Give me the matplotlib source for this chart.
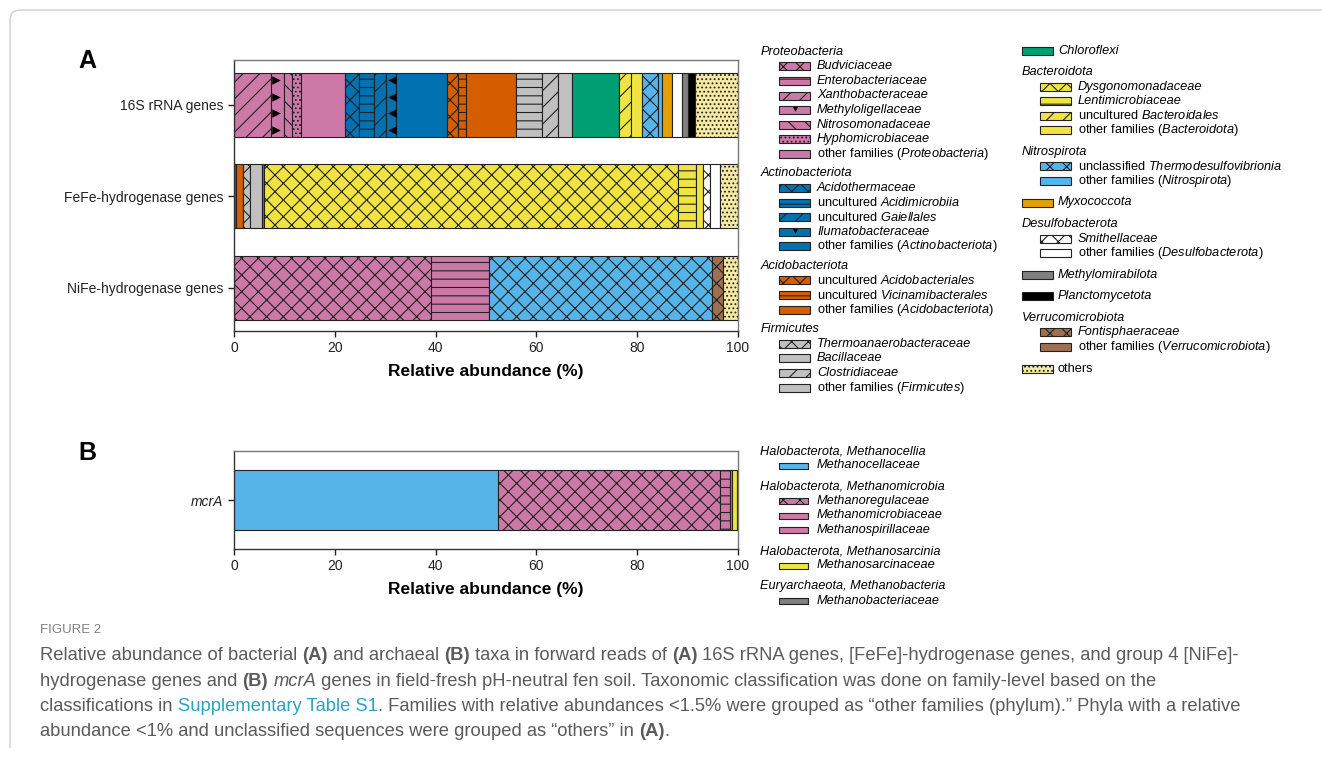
import numpy as np
import matplotlib
matplotlib.use('Agg')
import matplotlib.pyplot as plt
from matplotlib.patches import Rectangle, PathPatch
from matplotlib.path import Path

plt.rcParams['font.family'] = ['Liberation Sans', 'DejaVu Sans']
plt.rcParams['mathtext.fontset'] = 'custom'
plt.rcParams['mathtext.rm'] = 'Liberation Sans'
plt.rcParams['mathtext.it'] = 'Liberation Sans:italic'
plt.rcParams['mathtext.bf'] = 'Liberation Sans:bold'
plt.rcParams['hatch.linewidth'] = 0.8

# ---------------- datos ----------------
samples = ['16S rRNA genes', 'FeFe-hydrogenase genes', 'NiFe-hydrogenase genes']

taxa = ['Budviciaceae', 'Enterobacteriaceae', 'Xanthobacteraceae', 'Methyloligellaceae',
        'Nitrosomonadaceae', 'Hyphomicrobiaceae', 'other families (Proteobacteria)',
        'Acidothermaceae', 'uncultured Acidimicrobiia', 'uncultured Gaiellales',
        'Ilumatobacteraceae', 'other families (Actinobacteriota)',
        'uncultured Acidobacteriales', 'uncultured Vicinamibacterales',
        'other families (Acidobacteriota)',
        'Thermoanaerobacteraceae', 'Bacillaceae', 'Clostridiaceae', 'other families (Firmicutes)',
        'Chloroflexi',
        'Dysgonomonadaceae', 'Lentimicrobiaceae', 'uncultured Bacteroidales',
        'other families (Bacteroidota)',
        'unclassified Thermodesulfovibrionia', 'other families (Nitrospirota)',
        'Myxococcota',
        'Smithellaceae', 'other families (Desulfobacterota)',
        'Methylomirabilota', 'Planctomycetota',
        'Fontisphaeraceae', 'other families (Verrucomicrobiota)',
        'others']

rrna_16s = [0, 0, 7.3, 2.6, 1.7, 1.6, 8.9,
            2.8, 2.8, 2.4, 2.0, 10.2,
            2.2, 1.6, 9.9,
            0, 5.2, 3.0, 2.8,
            9.3,
            0, 0, 2.5, 2.2,
            3.2, 0.7,
            2.1,
            0, 1.8,
            1.3, 1.4,
            0, 0,
            8.5]

fefe_hyd = [0, 0, 0, 0, 0, 0, 0,
            0, 0, 0, 0, 0.4,
            0, 0, 1.4,
            1.3, 0, 0, 2.5,
            0.3,
            82.2, 3.6, 0, 1.45,
            0, 0,
            0,
            1.2, 2.0,
            0, 0,
            0, 0,
            3.65]

nife_hyd = [39.1, 11.55, 0, 0, 0, 0, 0,
            0, 0, 0, 0, 0,
            0, 0, 0,
            0, 0, 0, 0,
            0,
            0, 0, 0, 0,
            44.25, 0,
            0,
            0, 0,
            0, 0,
            2.2, 0,
            2.9]

archaea = ['Methanocellaceae', 'Methanoregulaceae', 'Methanomicrobiaceae',
           'Methanospirillaceae', 'Methanosarcinaceae', 'Methanobacteriaceae']
mcra = [52.4, 44.1, 2.0, 0.35, 0.9, 0.25]

# grupos de la leyenda (cabecera, taxones)
leg_col1 = [('Proteobacteria', taxa[0:7]), ('Actinobacteriota', taxa[7:12]),
            ('Acidobacteriota', taxa[12:15]), ('Firmicutes', taxa[15:19])]
leg_col2 = [(None, taxa[19:20]), ('Bacteroidota', taxa[20:24]), ('Nitrospirota', taxa[24:26]),
            (None, taxa[26:27]), ('Desulfobacterota', taxa[27:29]), (None, taxa[29:30]),
            (None, taxa[30:31]), ('Verrucomicrobiota', taxa[31:33]), (None, taxa[33:34])]
leg_b = [('Halobacterota, Methanocellia', archaea[0:1]),
         ('Halobacterota, Methanomicrobia', archaea[1:4]),
         ('Halobacterota, Methanosarcinia', archaea[4:5]),
         ('Euryarchaeota, Methanobacteria', archaea[5:6])]

# ---------------- estilos ----------------
PINK, BLUE, VERM, GREY = '#CC79A7', '#0072B2', '#D55E00', '#C0C0C0'
GREEN, YELLOW, SKY, GOLD = '#009E73', '#F0E442', '#56B4E9', '#E69F00'
BROWN, OTHERS = '#9E7052', '#F5E9A3'

colores = ([PINK] * 7 + [BLUE] * 5 + [VERM] * 3 + [GREY] * 4 + [GREEN] + [YELLOW] * 4
           + [SKY] * 2 + [GOLD] + ['white'] * 2 + ['#808080', 'black'] + [BROWN] * 2 + [OTHERS])
tramas = ['xx', '--', '//', '', '\\\\', '....', '',
          'xx', '--', '//', '', '',
          'xx', '--', '',
          'xx', '--', '//', '',
          '',
          'xx', '--', '//', '',
          'xx', '',
          '',
          'xx', '',
          '', '',
          'xx', '',
          '....']
marcas = {'Methyloligellaceae': '>', 'Ilumatobacteraceae': '<'}

col_b = [SKY, PINK, PINK, PINK, YELLOW, '#808080']
tra_b = ['', 'xx', '--', '', '', '']

EDGE = '#222222'

fig = plt.figure(figsize=(13.22, 7.62), dpi=100)


def estilo_ejes(ax):
    ax.set_xlim(0, 100)
    ax.set_xticks(np.arange(0, 101, 20))
    ax.tick_params(direction='out', length=4, width=1, labelsize=10, colors='#222222')
    for lado in ['left', 'bottom']:
        ax.spines[lado].set_color('#333333')
        ax.spines[lado].set_linewidth(1.0)
    for lado in ['top', 'right']:
        ax.spines[lado].set_color('#777777')
        ax.spines[lado].set_linewidth(1.0)
    ax.set_xlabel('Relative abundance (%)', fontsize=12.5, fontweight='bold', labelpad=6)


# ---------------- panel A ----------------
axA = fig.add_axes([234 / 1322, (762 - 331) / 762, 504 / 1322, 271 / 762])
datos = np.array([rrna_16s, fefe_hyd, nife_hyd])
izq = np.cumsum(datos, axis=1) - datos
ypos = np.arange(len(samples))

for j, nombre in enumerate(taxa):
    m = datos[:, j] > 0
    if not m.any():
        continue
    axA.barh(ypos[m], datos[m, j], left=izq[m, j], height=0.7, color=colores[j],
             hatch=tramas[j], edgecolor=EDGE, linewidth=0.8)
    if nombre in marcas:
        for i in ypos[m]:
            if marcas[nombre] == '>':
                xm = izq[i, j] + 1.0
            else:
                xm = izq[i, j] + datos[i, j] - 0.8
            axA.scatter([xm] * 4, i + np.array([-0.27, -0.09, 0.09, 0.27]),
                        marker=marcas[nombre], s=38, color='black', zorder=3, linewidths=0)

axA.set_yticks(ypos, samples)
axA.set_ylim(2.47, -0.49)
estilo_ejes(axA)

# ---------------- panel B ----------------
axB = fig.add_axes([234 / 1322, (762 - 549) / 762, 504 / 1322, 98 / 762])
izq_b = np.cumsum(mcra) - np.array(mcra)
for j in range(len(archaea)):
    axB.barh([0], [mcra[j]], left=[izq_b[j]], height=0.61, color=col_b[j],
             hatch=tra_b[j], edgecolor=EDGE, linewidth=0.8)
axB.set_yticks([0], ['mcrA'])
for t in axB.get_yticklabels():
    t.set_fontstyle('italic')
axB.set_ylim(0.5, -0.5)
estilo_ejes(axB)

# ---------------- capa superior (leyendas, letras, pie) ----------------
ov = fig.add_axes([0, 0, 1, 1])
ov.set_xlim(0, 1322)
ov.set_ylim(762, 0)
ov.axis('off')

FS = 9.2


def etiqueta(nombre):
    if nombre.startswith('other families ('):
        return r'other families ($\mathit{' + nombre[16:-1] + r'}$)', 'normal'
    for pre in ['uncultured ', 'unclassified ']:
        if nombre.startswith(pre):
            return pre + r'$\mathit{' + nombre[len(pre):] + r'}$', 'normal'
    if nombre == 'others':
        return nombre, 'normal'
    return nombre, 'italic'


def muestra(x, y, w, h, color, trama, marca=None):
    ov.add_patch(Rectangle((x, y - h / 2), w, h, facecolor=color, hatch=trama,
                           edgecolor=EDGE, linewidth=0.8))
    if marca:
        ov.scatter([x + w / 2], [y - 1], marker='v', s=12, color='black', linewidths=0, zorder=3)


def leyenda(grupos, x_cab, y0, estilo, w=31, h=8, gap=21.0, paso=14.6):
    y = y0
    for cab, miembros in grupos:
        if cab is not None:
            ov.text(x_cab, y, cab, fontsize=FS, fontstyle='italic', va='center', ha='left')
            y += paso
            xs, xt = x_cab + 18.5, x_cab + 56.5
        else:
            xs, xt = x_cab, x_cab + 36.5
        for nombre in miembros:
            col, tra, mk = estilo(nombre)
            muestra(xs, y, w, h, col, tra, mk)
            txt, st = etiqueta(nombre)
            ov.text(xt, y, txt, fontsize=FS, fontstyle=st, va='center', ha='left')
            y += paso
        y += gap - paso


def estilo_a(nombre):
    j = taxa.index(nombre)
    return colores[j], tramas[j], nombre in marcas


def estilo_b(nombre):
    j = archaea.index(nombre)
    return col_b[j], tra_b[j], False


leyenda(leg_col1, 760.5, 51.7, estilo_a, gap=19.5)
leyenda(leg_col2, 1021.5, 50.7, estilo_a, gap=21.6, paso=14.5)
leyenda(leg_b, 760.5, 451.0, estilo_b, w=29, h=6, gap=21.0, paso=14.5)

ov.text(78, 61, 'A', fontsize=18, fontweight='bold', va='center', ha='left')
ov.text(78, 453, 'B', fontsize=18, fontweight='bold', va='center', ha='left')

# marco gris
ruta = Path([(10, 748), (10, 20), (10, 10), (20, 10), (1322, 10)],
            [Path.MOVETO, Path.LINETO, Path.CURVE3, Path.CURVE3, Path.LINETO])
ov.add_patch(PathPatch(ruta, facecolor='none', edgecolor='#cfcfcf', linewidth=1.0))

# pie de figura
CAP = ['Liberation Sans']
GRIS = '#5b5b5b'
LINK = '#2AA3C4'
pie = [
    [('Relative abundance of bacterial ', 'n'), ('(A)', 'b'), (' and archaeal ', 'n'), ('(B)', 'b'),
     (' taxa in forward reads of ', 'n'), ('(A)', 'b'),
     (' 16S rRNA genes, [FeFe]-hydrogenase genes, and group 4 [NiFe]-', 'n')],
    [('hydrogenase genes and ', 'n'), ('(B)', 'b'), (' ', 'n'), ('mcrA', 'i'),
     (' genes in field-fresh pH-neutral fen soil. Taxonomic classification was done on family-level based on the', 'n')],
    [('classifications in ', 'n'), ('Supplementary Table S1', 'l'),
     ('. Families with relative abundances <1.5% were grouped as \u201cother families (phylum).\u201d Phyla with a relative', 'n')],
    [('abundance <1% and unclassified sequences were grouped as \u201cothers\u201d in ', 'n'), ('(A)', 'b'), ('.', 'n')],
]
FSC = 13.25
for k, linea in enumerate(pie):
    yb = 664 + 25.5 * k
    prev = None
    for texto, tipo in linea:
        kw = dict(fontsize=FSC, family=CAP, color=LINK if tipo == 'l' else GRIS,
                  fontweight='bold' if tipo == 'b' else 'normal',
                  fontstyle='italic' if tipo == 'i' else 'normal', va='bottom', ha='left')
        if prev is None:
            prev = ov.text(40, yb, texto, **kw)
        else:
            prev = ov.annotate(texto, xy=(1, 0), xycoords=prev, **kw)

ov.text(40, 630, 'FIGURE 2', fontsize=9.5, family=CAP, color='#808080', va='center', ha='left')

fig.savefig('out.png', dpi=100)
